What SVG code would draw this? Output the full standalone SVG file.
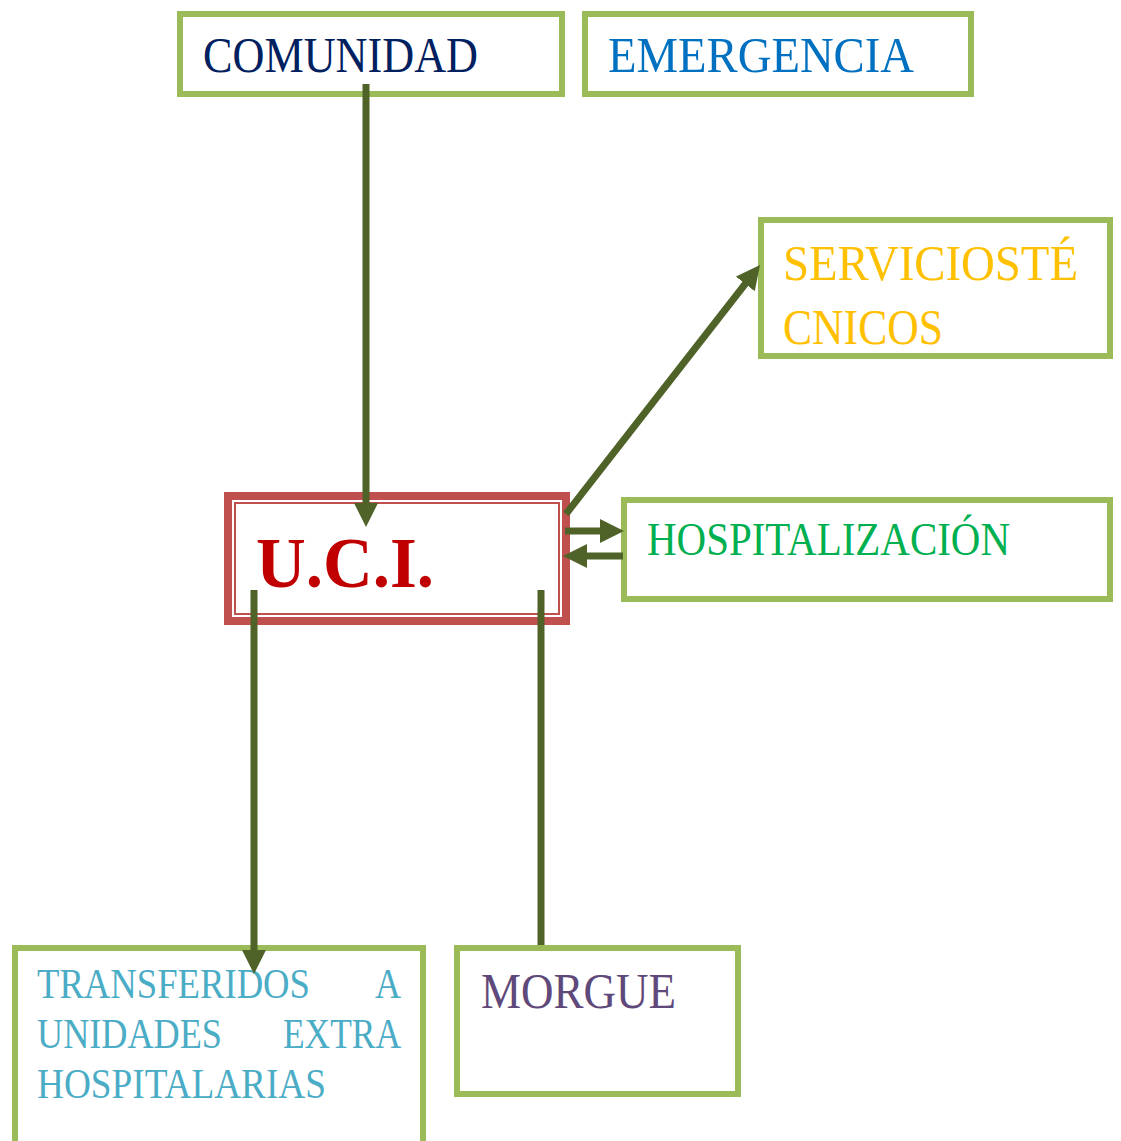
<svg xmlns="http://www.w3.org/2000/svg" width="1121" height="1141" viewBox="0 0 1121 1141">
<style>
.box{fill:#ffffff;stroke:#9bbb59;stroke-width:6}
.t{font-family:"Liberation Serif","DejaVu Serif",serif;}
.conn{stroke:#4f6228;stroke-width:7;fill:none}
</style>
<defs>
<marker id="ah" viewBox="0 0 24 24" refX="10" refY="12" markerWidth="24" markerHeight="24" markerUnits="userSpaceOnUse" orient="auto">
<path d="M0,0 L24,12 L0,24 z" fill="#4f6228"/>
</marker>
</defs>
<rect width="1121" height="1141" fill="#ffffff"/>
<g id="comunidad">
<rect class="box" x="180" y="14" width="382" height="80"/>
<text class="t" x="203" y="72" font-size="50" fill="#002060" textLength="275" lengthAdjust="spacingAndGlyphs">COMUNIDAD</text>
</g>
<g id="emergencia">
<rect class="box" x="585" y="14" width="386" height="80"/>
<text class="t" x="608" y="72" font-size="50" fill="#0070c0" textLength="306" lengthAdjust="spacingAndGlyphs">EMERGENCIA</text>
</g>
<g id="servicios">
<rect class="box" x="761" y="220" width="349" height="136"/>
<text class="t" x="783" y="280" font-size="50" fill="#ffc000" textLength="295" lengthAdjust="spacingAndGlyphs">SERVICIOSTÉ</text>
<text class="t" x="783" y="344" font-size="50" fill="#ffc000" textLength="160" lengthAdjust="spacingAndGlyphs">CNICOS</text>
</g>
<g id="hospitalizacion">
<rect class="box" x="624" y="500" width="486" height="99"/>
<text class="t" x="647" y="555" font-size="46" fill="#00b050" textLength="363" lengthAdjust="spacingAndGlyphs">HOSPITALIZACIÓN</text>
</g>
<g id="uci">
<rect x="228" y="496" width="338" height="125" fill="#ffffff" stroke="#c0504d" stroke-width="8"/>
<rect x="235" y="503" width="324" height="111" fill="none" stroke="#c0504d" stroke-width="2"/>
<text class="t" x="256" y="587" font-size="72" font-weight="bold" fill="#c00000" textLength="178" lengthAdjust="spacingAndGlyphs">U.C.I.</text>
</g>
<g id="transferidos">
<rect class="box" x="15" y="948" width="408" height="200"/>
<g class="t" font-size="42" fill="#4bacc6">
<text x="37" y="998" textLength="273" lengthAdjust="spacingAndGlyphs">TRANSFERIDOS</text>
<text x="375" y="998" textLength="26" lengthAdjust="spacingAndGlyphs">A</text>
<text x="37" y="1048" textLength="185" lengthAdjust="spacingAndGlyphs">UNIDADES</text>
<text x="283" y="1048" textLength="118" lengthAdjust="spacingAndGlyphs">EXTRA</text>
<text x="37" y="1098" textLength="289" lengthAdjust="spacingAndGlyphs">HOSPITALARIAS</text>
</g>
</g>
<g id="morgue">
<rect class="box" x="457" y="948" width="281" height="146"/>
<text class="t" x="481" y="1008" font-size="50" fill="#5f497a" textLength="195" lengthAdjust="spacingAndGlyphs">MORGUE</text>
</g>
<g id="connectors">
<line class="conn" x1="366" y1="84" x2="366" y2="513" marker-end="url(#ah)"/>
<line class="conn" x1="566" y1="514" x2="751.4" y2="276" marker-end="url(#ah)"/>
<line class="conn" x1="565" y1="531" x2="610" y2="531" marker-end="url(#ah)"/>
<line class="conn" x1="623" y1="556" x2="577" y2="556" marker-end="url(#ah)"/>
<line class="conn" x1="254" y1="590" x2="254" y2="960" marker-end="url(#ah)"/>
<line class="conn" x1="541" y1="590" x2="541" y2="945"/>
</g>
</svg>
